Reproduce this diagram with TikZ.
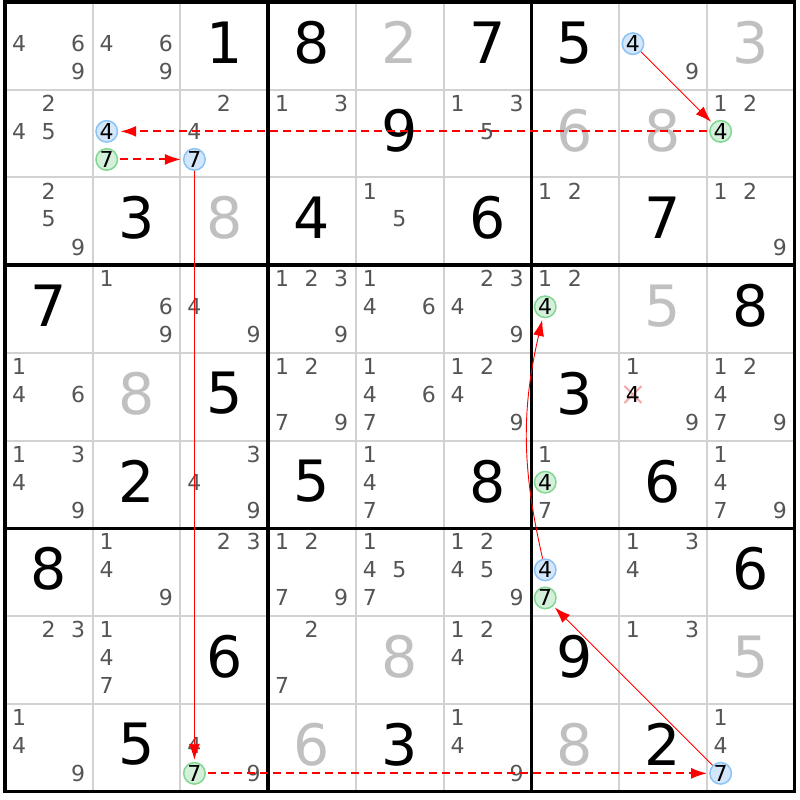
\documentclass[tikz,border=0pt]{standalone}
\usepackage{fontspec}
\setmainfont{DejaVu Sans}
\usepackage{tikz}
\usetikzlibrary{arrows.meta,positioning}

\definecolor{candgray}{RGB}{85,85,85}
\definecolor{solvedgray}{RGB}{192,192,192}
\definecolor{gridgray}{RGB}{210,210,210}
\definecolor{bluefill}{RGB}{212,230,249}
\definecolor{blueline}{RGB}{140,195,245}
\definecolor{greenfill}{RGB}{212,240,218}
\definecolor{greenline}{RGB}{130,215,145}
\definecolor{crosspink}{RGB}{245,165,165}
\definecolor{linkred}{RGB}{255,0,0}

\begin{document}
\begin{tikzpicture}
 [x=87.7pt,y=-87.7pt,
 cand/.style={font=\fontsize{22}{24}\selectfont,text=candgray,inner sep=0pt},
 given/.style={font=\fontsize{57}{60}\selectfont,text=black,inner sep=0pt},
 solved/.style={given,text=solvedgray},
 onblue/.style={circle,draw=blueline,fill=bluefill,line width=1.5pt,
 	inner sep=0pt,minimum size=21.5pt,font=\fontsize{22}{24}\selectfont},
 ongreen/.style={onblue,draw=greenline,fill=greenfill},
 strong/.style={draw=linkred,line width=0.9pt,
 	-{Latex[length=16pt,width=11pt]},shorten >=2pt},
 weak/.style={draw=linkred,line width=2pt,dash pattern=on 8pt off 5pt,
 	-{Latex[length=16pt,width=11pt]},shorten >=2pt,shorten <=2pt}]
 	% page
 	\fill[white] (-0.057,-0.023) rectangle (9.065,9.099);
 	\useasboundingbox (-0.057,-0.023) rectangle (9.065,9.099);
 	% grid
 	\foreach \i in {1,2,4,5,7,8}
 	\draw[gridgray,line width=2pt] (\i,0) -- (\i,9) (0,\i) -- (9,\i);
 	\foreach \i in {0,3,6,9}
 	\draw[black,line width=3.4pt,line cap=rect] (\i,0) -- (\i,9) (0,\i) -- (9,\i);
 	% given and solved digits
 	\foreach \row/\col/\d in {1/3/1,1/4/8,1/6/7,1/7/5,2/5/9,3/2/3,3/4/4,3/6/6,3/8/7,
 		4/1/7,4/9/8,5/3/5,5/7/3,6/2/2,6/4/5,6/6/8,6/8/6,7/1/8,7/9/6,8/3/6,8/7/9,
 		9/2/5,9/5/3,9/8/2}
 	\node[given] (g-\row-\col) at (\col-0.5,\row-0.535) {\d};
 	\foreach \row/\col/\d in {1/5/2,1/9/3,2/7/6,2/8/8,3/3/8,4/8/5,5/2/8,8/5/8,
 		8/9/5,9/4/6,9/7/8}
 	\node[solved] (g-\row-\col) at (\col-0.5,\row-0.535) {\d};
 	% candidates
 	\foreach \row/\col/\ds in {1/1/{4,6,9},1/2/{4,6,9},1/8/{9},
 		2/1/{2,4,5},2/3/{2,4},2/4/{1,3},2/6/{1,3,5},2/9/{1,2},
 		3/1/{2,5,9},3/5/{1,5},3/7/{1,2},3/9/{1,2,9},
 		4/2/{1,6,9},4/3/{4,9},4/4/{1,2,3,9},4/5/{1,4,6},4/6/{2,3,4,9},4/7/{1,2},
 		5/1/{1,4,6},5/4/{1,2,7,9},5/5/{1,4,6,7},5/6/{1,2,4,9},5/8/{1,9},5/9/{1,2,4,7,9},
 		6/1/{1,3,4,9},6/3/{3,4,9},6/5/{1,4,7},6/7/{1,7},6/9/{1,4,7,9},
 		7/2/{1,4,9},7/3/{2,3},7/4/{1,2,7,9},7/5/{1,4,5,7},7/6/{1,2,4,5,9},7/8/{1,3,4},
 		8/1/{2,3},8/2/{1,4,7},8/4/{2,7},8/6/{1,2,4},8/8/{1,3},
 		9/1/{1,4,9},9/3/{4,9},9/6/{1,4,9},9/9/{1,4}}
 	\foreach \d in \ds
 	\node[cand] (k-\row-\col-\d) at ({\col-1+0.16+0.337*mod(\d-1,3)},{\row-1+0.155+0.32*div(\d-1,3)}) {\d};
 	% eliminated 4
 	\coordinate (x-5-8-4) at (7.16,4.475);
 	\draw[crosspink,line width=2pt] ([shift={(-8.5pt,-8.5pt)}]x-5-8-4) -- ([shift={(8.5pt,8.5pt)}]x-5-8-4)
 	([shift={(-8.5pt,8.5pt)}]x-5-8-4) -- ([shift={(8.5pt,-8.5pt)}]x-5-8-4);
 	\node[cand,text=black] (k-5-8-4) at (x-5-8-4) {4};
 	% chain
 	\foreach \row/\col/\d in {1/8/4,2/2/4,2/3/7,7/7/4,9/9/7}
 	\node[onblue] (k-\row-\col-\d) at ({\col-1+0.16+0.337*mod(\d-1,3)},{\row-1+0.155+0.32*div(\d-1,3)}) {\d};
 	\foreach \row/\col/\d in {2/9/4,2/2/7,9/3/7,7/7/7,4/7/4,6/7/4}
 	\node[ongreen] (k-\row-\col-\d) at ({\col-1+0.16+0.337*mod(\d-1,3)},{\row-1+0.155+0.32*div(\d-1,3)}) {\d};
 	% links
 	\draw[strong] (k-1-8-4) -- (k-2-9-4);
 	\draw[weak] (k-2-9-4) -- (k-2-2-4);
 	\draw[weak] (k-2-2-7) -- (k-2-3-7);
 	\draw[strong] (k-2-3-7) -- (k-9-3-7);
 	\draw[weak] (k-9-3-7) -- (k-9-9-7);
 	\draw[strong] (k-9-9-7) -- (k-7-7-7);
 	\draw[strong] (k-7-7-4) to[bend left=13] (k-4-7-4);
\end{tikzpicture}
\end{document}
